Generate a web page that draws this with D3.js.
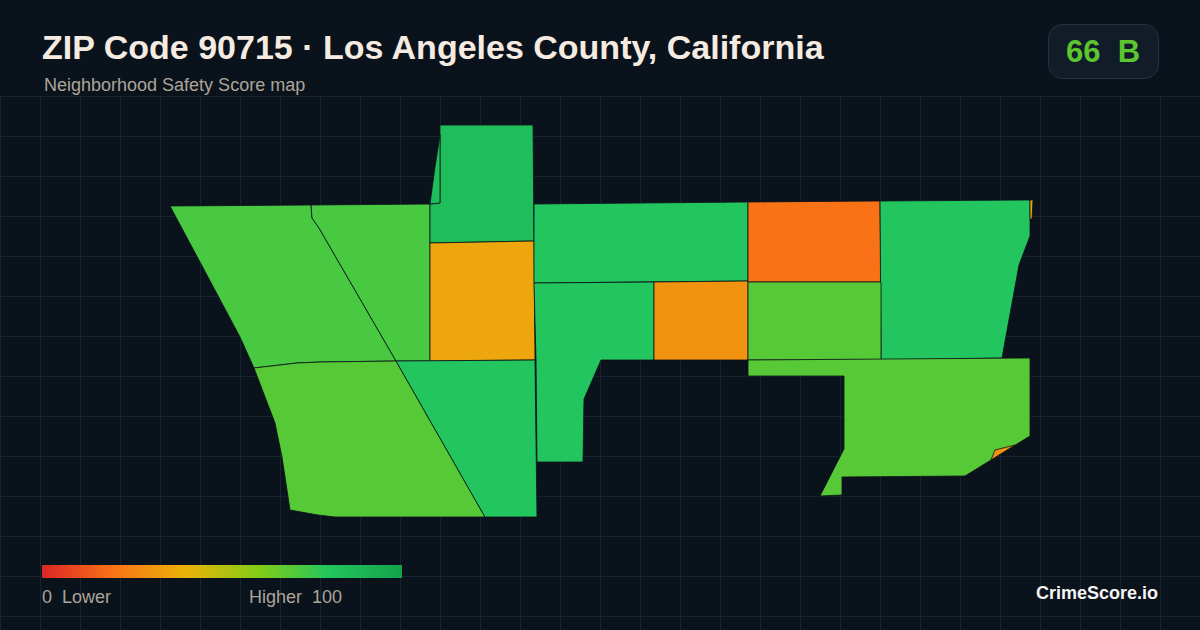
<!DOCTYPE html>
<html>
<head>
<meta charset="utf-8">
<script src="https://cdn.jsdelivr.net/npm/d3@7"></script>
<style>
  html, body { margin: 0; padding: 0; background: #0a121c; }
  svg { display: block; font-family: "Liberation Sans", Arial, sans-serif; }
</style>
</head>
<body>
<svg id="chart" width="1200" height="630"></svg>
<script>
// scores per tract
const tractNames = ['nw', 'nwMid', 'tall', 'tallSliver', 'centerAmber', 'northRow', 'northOrange', 'east', 'eastSliver', 'southLeg', 'midOrange', 'midLime', 'southEast', 'southEastChip', 'sw', 'swMid']
const tractScores = [72, 72, 84, 84, 36, 80, 20, 80, 36, 80, 30, 69, 69, 30, 69, 80]

// outlines, in map units from the sw corner (north is up)
const tractOutlines = [
    [[0, 311], [141, 312], [142, 299], [149, 289], [226, 156], [150, 155], [127, 154], [84, 149], [70, 180], [30, 255]],
    [[141, 312], [260, 313], [260, 156], [226, 156], [149, 289], [142, 299]],
    [[270, 392], [363, 392], [364, 276], [260, 274], [260, 313], [270, 314]],
    [[270, 382], [270, 314], [260, 313], [265, 350]],
    [[260, 274], [364, 276], [365, 157], [260, 156]],
    [[364, 313], [578, 315], [578, 236], [364, 234]],
    [[578, 315], [710, 316], [711, 235], [578, 235]],
    [[710, 316], [860, 317], [860, 281], [849, 252], [832, 159], [711, 157]],
    [[860, 317], [863, 317], [862, 298], [860, 298]],
    [[364, 234], [484, 235], [484, 157], [431, 157], [414, 118], [413, 55], [367, 55], [366, 157]],
    [[484, 235], [578, 236], [578, 157], [484, 157]],
    [[578, 235], [711, 235], [711, 157], [578, 157]],
    [[578, 157], [860, 159], [860, 81], [795, 41], [672, 40], [672, 22], [650, 21], [674, 68], [674, 141], [578, 141]],
    [[825, 67], [845, 72], [821, 57]],
    [[84, 149], [127, 154], [150, 155], [226, 156], [315, 0], [165, 0], [148, 2], [120, 7], [112, 60], [105, 94]],
    [[226, 156], [365, 157], [367, 0], [315, 0]]
]

// legend
const legendStops = [0, 20, 40, 60, 80, 100]
const legendColors = ['#dc2626', '#f97316', '#eab308', '#84cc16', '#22c55e', '#16a34a']

const width = 1200
const height = 630
const gridStep = 40

const svg = d3.select('#chart')

// background grid, starts under the header
const gridX = d3.range(0, width + 1, gridStep)
const gridY = d3.range(96, height, gridStep)
const grid = svg.append('g').attr('stroke', '#16242f').attr('stroke-width', 1)
grid.selectAll('line.v').data(gridX).enter().append('line')
    .attr('class', 'v')
    .attr('x1', d => d + 0.5).attr('x2', d => d + 0.5)
    .attr('y1', 96).attr('y2', height)
grid.selectAll('line.h').data(gridY).enter().append('line')
    .attr('class', 'h')
    .attr('x1', 0).attr('x2', width)
    .attr('y1', d => d + 0.5).attr('y2', d => d + 0.5)

// map
const x = d3.scaleLinear().domain([0, 862]).range([170, 1032])
const y = d3.scaleLinear().domain([0, 392]).range([517, 125])
const color = d3.scaleLinear().domain(legendStops).range(legendColors).interpolate(d3.interpolateRgb)
const outline = d3.line().x(d => x(d[0])).y(d => y(d[1])).curve(d3.curveLinearClosed)

svg.append('g').selectAll('path')
    .data(tractOutlines)
    .enter().append('path')
    .attr('class', (d, i) => 'tract ' + tractNames[i])
    .attr('d', outline)
    .attr('fill', (d, i) => color(tractScores[i]))
    .attr('stroke', '#0a121c')
    .attr('stroke-width', 0.8)

// header
svg.append('text').attr('x', 42).attr('y', 59)
    .attr('fill', '#f5ebe0').attr('font-size', 34).attr('font-weight', 700)
    .text('ZIP Code 90715 · Los Angeles County, California')
svg.append('text').attr('x', 44).attr('y', 91)
    .attr('fill', '#aca599').attr('font-size', 18)
    .text('Neighborhood Safety Score map')

// score badge
svg.append('rect').attr('x', 1048.5).attr('y', 24.5).attr('width', 110).attr('height', 54).attr('rx', 14)
    .attr('fill', '#111c28').attr('stroke', '#263240')
svg.append('text').attr('x', 1103).attr('y', 62).attr('text-anchor', 'middle')
    .attr('fill', '#5bc62f').attr('font-size', 31).attr('font-weight', 700)
    .style('white-space', 'pre')
    .text('66  B')

// legend bar
const legendX = d3.scaleLinear().domain([0, 100]).range([42, 402])
const gradient = svg.append('defs').append('linearGradient').attr('id', 'legendGradient')
gradient.selectAll('stop').data(legendStops).enter().append('stop')
    .attr('offset', d => d + '%')
    .attr('stop-color', (d, i) => legendColors[i])
svg.append('rect')
    .attr('x', legendX(0)).attr('y', 565)
    .attr('width', legendX(100) - legendX(0)).attr('height', 13)
    .attr('fill', 'url(#legendGradient)')
svg.append('text').attr('x', 42).attr('y', 603)
    .attr('fill', '#aca599').attr('font-size', 18).style('white-space', 'pre')
    .text('0  Lower')
svg.append('text').attr('x', 342).attr('y', 603).attr('text-anchor', 'end')
    .attr('fill', '#aca599').attr('font-size', 18).style('white-space', 'pre')
    .text('Higher  100')

svg.append('text').attr('x', 1158).attr('y', 599).attr('text-anchor', 'end')
    .attr('fill', '#f5f5f4').attr('font-size', 18).attr('font-weight', 700)
    .text('CrimeScore.io')
</script>
</body>
</html>
